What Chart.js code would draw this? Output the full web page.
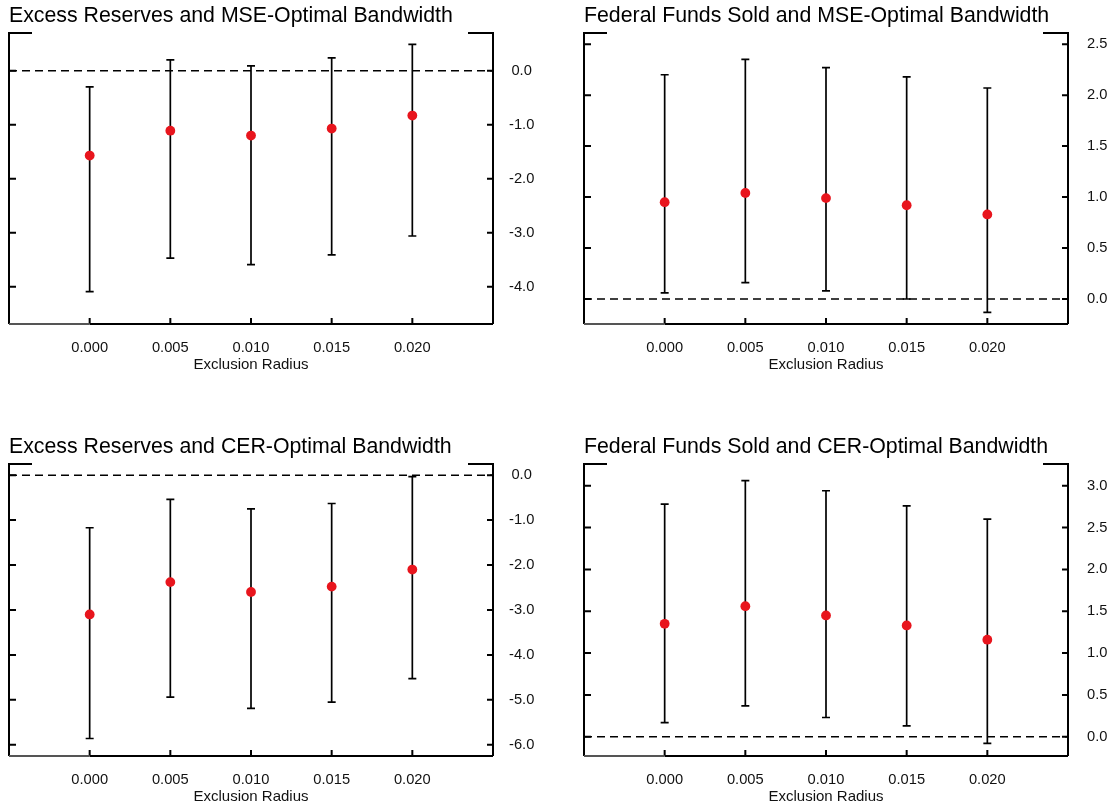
<!DOCTYPE html>
<html>
<head>
<meta charset="utf-8">
<script src="https://cdn.jsdelivr.net/npm/chart.js@4/dist/chart.umd.min.js"></script>
<style>
  body { margin: 0; background: #fff; width: 1115px; height: 806px; overflow: hidden; position: relative; }
  canvas { position: absolute; }
</style>
</head>
<body>
<canvas id="p1" width="557" height="374" style="left:0;top:0"></canvas>
<canvas id="p2" width="540" height="374" style="left:575px;top:0"></canvas>
<canvas id="p3" width="557" height="375" style="left:0;top:431px"></canvas>
<canvas id="p4" width="540" height="375" style="left:575px;top:431px"></canvas>
<script>
// exclusion radius (x axis)
const radius = [0.000, 0.005, 0.010, 0.015, 0.020];

// Excess reserves, MSE-optimal bandwidth
const erMseEst = [-1.57, -1.11, -1.20, -1.07, -0.83];
const erMseLo  = [-4.09, -3.47, -3.59, -3.41, -3.06];
const erMseHi  = [-0.30, 0.20, 0.09, 0.24, 0.49];
const erMseTicks = [0, -1, -2, -3, -4];

// Federal funds sold, MSE-optimal bandwidth
const ffMseEst = [0.95, 1.04, 0.99, 0.92, 0.83];
const ffMseLo  = [0.06, 0.16, 0.08, 0.00, -0.13];
const ffMseHi  = [2.20, 2.35, 2.27, 2.18, 2.07];
const ffMseTicks = [0, 0.5, 1, 1.5, 2, 2.5];

// Excess reserves, CER-optimal bandwidth
const erCerEst = [-3.10, -2.38, -2.60, -2.48, -2.10];
const erCerLo  = [-5.86, -4.94, -5.19, -5.05, -4.53];
const erCerHi  = [-1.17, -0.54, -0.75, -0.63, -0.03];
const erCerTicks = [0, -1, -2, -3, -4, -5, -6];

// Federal funds sold, CER-optimal bandwidth
const ffCerEst = [1.35, 1.56, 1.45, 1.33, 1.16];
const ffCerLo  = [0.17, 0.37, 0.23, 0.13, -0.08];
const ffCerHi  = [2.78, 3.06, 2.94, 2.76, 2.60];
const ffCerTicks = [0, 0.5, 1, 1.5, 2, 2.5, 3];

const FONT = "'Liberation Sans', Arial, Helvetica, sans-serif";

// frame, ticks, zero line and error bars
const framePlugin = {
    id: 'frame',
    beforeDatasetsDraw(chart) {
        const ctx = chart.ctx;
        const xs = chart.scales.x, ys = chart.scales.y;
        const a = chart.chartArea;
        const bars = chart.options.plugins.frame;

        // dashed zero line
        const y0 = ys.getPixelForValue(0);
        ctx.save();
        ctx.strokeStyle = '#000';
        ctx.lineWidth = 1.5;
        ctx.setLineDash([8, 5]);
        ctx.beginPath();
        ctx.moveTo(a.left, y0);
        ctx.lineTo(a.right, y0);
        ctx.stroke();
        ctx.setLineDash([]);

        // error bars
        ctx.lineWidth = 1.7;
        radius.forEach((r, i) => {
            const x = xs.getPixelForValue(r);
            const yl = ys.getPixelForValue(bars.lo[i]);
            const yh = ys.getPixelForValue(bars.hi[i]);
            ctx.beginPath();
            ctx.moveTo(x, yl); ctx.lineTo(x, yh);
            ctx.moveTo(x - 4, yl); ctx.lineTo(x + 4, yl);
            ctx.moveTo(x - 4, yh); ctx.lineTo(x + 4, yh);
            ctx.stroke();
        });
        ctx.restore();
    },
    afterDraw(chart) {
        const ctx = chart.ctx;
        const xs = chart.scales.x, ys = chart.scales.y;
        const {left, right, top, bottom} = chart.chartArea;
        ctx.save();
        ctx.lineWidth = 2;
        ctx.strokeStyle = '#000';
        ctx.beginPath();
        // left axis and top stubs
        ctx.moveTo(left + 23, top); ctx.lineTo(left, top); ctx.lineTo(left, bottom);
        ctx.moveTo(right - 25, top); ctx.lineTo(right, top); ctx.lineTo(right, bottom);
        // bottom axis from first tick
        const xFirst = xs.getPixelForValue(radius[0]);
        ctx.moveTo(xFirst, bottom); ctx.lineTo(right, bottom);
        ys.ticks.forEach(t => {
            const y = ys.getPixelForValue(t.value);
            ctx.moveTo(left, y); ctx.lineTo(left + 7, y);
            ctx.moveTo(right - 6, y); ctx.lineTo(right, y);
        });
        xs.ticks.forEach(t => {
            const x = xs.getPixelForValue(t.value);
            ctx.moveTo(x, bottom); ctx.lineTo(x, bottom - 6);
        });
        ctx.stroke();
        ctx.strokeStyle = '#555';
        ctx.beginPath();
        ctx.moveTo(left, bottom); ctx.lineTo(xFirst, bottom);
        ctx.stroke();
        ctx.restore();
    }
};

function makePanel(id, title, est, lo, hi, yMin, yMax, yTicks, yWidth, yPad) {
    const ctx = document.getElementById(id).getContext('2d');
    new Chart(ctx, {
        type: 'scatter',
        data: {
            datasets: [{
                data: radius.map((r, i) => ({x: r, y: est[i]})),
                backgroundColor: '#e8151d',
                borderWidth: 0,
                pointRadius: 4.9
            }]
        },
        options: {
            responsive: false,
            animation: false,
            layout: { padding: { left: 9, right: 0, top: 0, bottom: 0 } },
            scales: {
                x: {
                    type: 'linear',
                    min: -0.005,
                    max: 0.025,
                    grid: { display: false, drawTicks: false },
                    border: { display: false },
                    afterBuildTicks: (s) => { s.ticks = radius.map(v => ({value: v})); },
                    afterFit: (s) => { s.height = 50; },
                    ticks: {
                        padding: 15,
                        maxRotation: 0,
                        color: '#111',
                        font: { family: FONT, size: 14.7 },
                        callback: (v) => Number(v).toFixed(3)
                    },
                    title: {
                        display: true,
                        text: 'Exclusion Radius',
                        color: '#111',
                        font: { family: FONT, size: 15 },
                        padding: { top: 0, bottom: 0.5 }
                    }
                },
                y: {
                    type: 'linear',
                    position: 'right',
                    min: yMin,
                    max: yMax,
                    grid: { display: false, drawTicks: false },
                    border: { display: false },
                    afterBuildTicks: (s) => { s.ticks = yTicks.map(v => ({value: v})); },
                    afterFit: (s) => { s.width = yWidth; },
                    ticks: {
                        padding: yPad,
                        crossAlign: 'center',
                        color: '#111',
                        font: { family: FONT, size: 14.7 },
                        callback: (v) => Number(v).toFixed(1)
                    }
                }
            },
            plugins: {
                legend: { display: false },
                tooltip: { enabled: false },
                title: {
                    display: true,
                    text: title,
                    align: 'start',
                    color: '#000',
                    font: { family: FONT, size: 21.3, weight: 'normal' },
                    padding: { top: 3.5, bottom: 3.9 }
                },
                frame: { lo: lo, hi: hi }
            }
        },
        plugins: [framePlugin]
    });
}

makePanel('p1', 'Excess Reserves and MSE-Optimal Bandwidth', erMseEst, erMseLo, erMseHi, -4.69, 0.70, erMseTicks, 64, 16);
makePanel('p2', 'Federal Funds Sold and MSE-Optimal Bandwidth', ffMseEst, ffMseLo, ffMseHi, -0.245, 2.61, ffMseTicks, 47, 19);
makePanel('p3', 'Excess Reserves and CER-Optimal Bandwidth', erCerEst, erCerLo, erCerHi, -6.25, 0.25, erCerTicks, 64, 16);
makePanel('p4', 'Federal Funds Sold and CER-Optimal Bandwidth', ffCerEst, ffCerLo, ffCerHi, -0.23, 3.26, ffCerTicks, 47, 19);
</script>
</body>
</html>
